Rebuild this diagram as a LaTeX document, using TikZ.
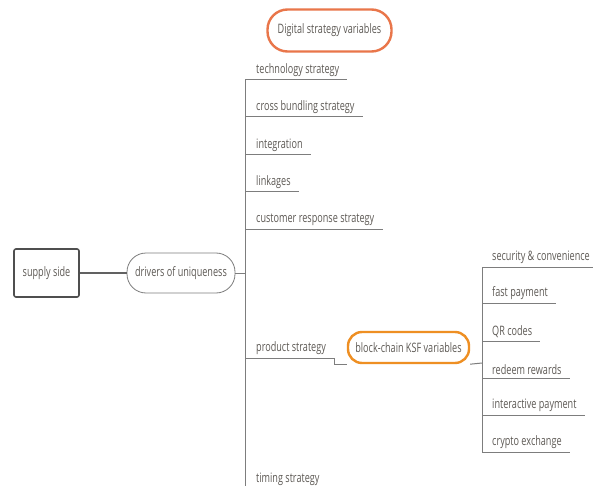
\documentclass[tikz,border=0pt]{standalone}
\usepackage{fontspec}
\setmainfont[FakeStretch=0.70]{Open Sans}
\begin{document}
\begin{tikzpicture}[x=1pt,y=-1pt,
  ln/.style={draw=linegray, line width=1pt},
  fnt/.style={text=txtgray, font=\fontsize{13}{15}\selectfont},
  leaf/.style={fnt, anchor=south west, inner xsep=8pt, inner ysep=3.5pt},
  ]
\definecolor{linegray}{HTML}{7D7D7D}
\definecolor{txtgray}{HTML}{5E5A55}
\definecolor{boxgray}{HTML}{4F4F4F}
\definecolor{orangeA}{HTML}{E9764A}
\definecolor{orangeB}{HTML}{EE8F23}
\useasboundingbox[fill=white] (0,0) rectangle (593,486);

% root
\node[fnt, draw=boxgray, line width=1.6pt, rounded corners=2pt, minimum width=65pt, minimum height=48pt] (supply) at (46.5,273) {supply side};
\node[fnt, draw=linegray, line width=0.8pt, rounded corners=19pt, minimum width=108pt, minimum height=40pt] (drv) at (181,273) {drivers of uniqueness};
\draw[ln, line width=1.5pt, draw=boxgray!90] (supply.east) -- (drv.west);

% floating title
\node[fnt, draw=orangeA, line width=2.4pt, rounded corners=20pt, minimum width=124pt, minimum height=42pt] (digital) at (329.5,30.5) {Digital strategy variables};

% trunk
\coordinate (tr) at (245,273);
\coordinate (trtop) at (245,80);
\coordinate (trbot) at (245,490);
\draw[ln] (drv.east) -- (tr);
\draw[ln] (trtop) -- (trbot);

\node[leaf] (tech) at (248,80) {technology strategy};
\node[leaf] (cross) at (248,117) {cross bundling strategy};
\node[leaf] (integ) at (248,155) {integration};
\node[leaf] (link) at (248,192) {linkages};
\node[leaf] (cust) at (248,229) {customer response strategy};
\node[leaf] (prod) at (248,358) {product strategy};
\node[leaf] (timing) at (248,489) {timing strategy};

\foreach \n in {tech,cross,integ,link,cust,prod,timing}
  \draw[ln] (trtop |- \n.south) -- (\n.south east);

% block-chain
\node[fnt, draw=orangeB, line width=2.4pt, rounded corners=14pt, minimum width=121pt, minimum height=31pt] (bc) at (408.5,347.5) {block-chain KSF variables};
\draw[ln] (prod.south east) |- (bc.south west);

\coordinate (st) at (482,363);
\coordinate (sttop) at (482,267);
\coordinate (stbot) at (482,452);
\draw[ln] (bc.south east) -- (st);
\draw[ln] (sttop) -- (stbot);

\node[leaf] (sec) at (484,267) {security \& convenience};
\node[leaf] (fast) at (484,303) {fast payment};
\node[leaf] (qr) at (484,341) {QR codes};
\node[leaf] (redeem) at (484,378) {redeem rewards};
\node[leaf] (inter) at (484,415) {interactive payment};
\node[leaf] (crypto) at (484,452) {crypto exchange};

\foreach \n in {sec,fast,qr,redeem,inter,crypto}
  \draw[ln] (sttop |- \n.south) -- (\n.south east);
\end{tikzpicture}
\end{document}
